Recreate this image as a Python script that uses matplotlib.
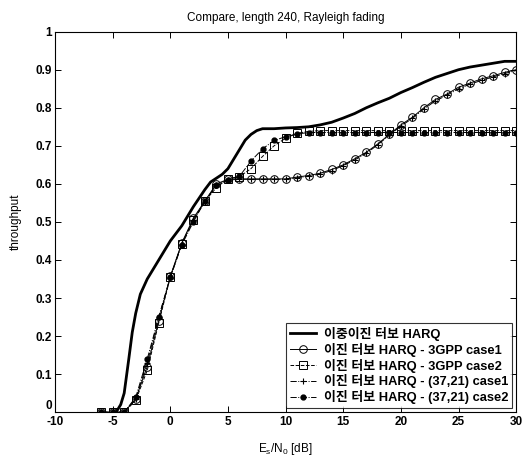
import numpy as np
import matplotlib.pyplot as plt

plt.rcParams['font.family'] = ['Liberation Sans', 'Noto Sans CJK KR', 'DejaVu Sans']
plt.rcParams['axes.unicode_minus'] = False

# dual-binary turbo HARQ (solid curve)
snr_dual = [-4.7, -4.3, -4, -3.6, -3.3, -3, -2.6, -2, -1, 0, 1, 2, 3, 3.5, 4, 4.5, 5, 5.5, 6,
            6.5, 7, 7.5, 8, 9, 10, 11, 12, 13, 14, 15, 16, 17, 18, 19, 20, 21, 22, 23, 24,
            25, 26, 27, 28, 29, 30]
thr_dual = [0.0, 0.02, 0.05, 0.14, 0.21, 0.26, 0.31, 0.35, 0.40, 0.45, 0.49, 0.54, 0.585, 0.605,
            0.615, 0.625, 0.64, 0.665, 0.69, 0.715, 0.73, 0.74, 0.745, 0.745, 0.747, 0.748, 0.75,
            0.755, 0.762, 0.773, 0.785, 0.80, 0.813, 0.825, 0.84, 0.853, 0.867, 0.88, 0.89,
            0.90, 0.907, 0.912, 0.917, 0.922, 0.922]

snr = list(range(-6, 31))
thr_3gpp_c1 = [0, 0, 0, 0.035, 0.12, 0.24, 0.357, 0.445, 0.51, 0.555, 0.60, 0.612, 0.613,
               0.613, 0.613, 0.613, 0.613, 0.618, 0.622, 0.628, 0.638, 0.65, 0.666, 0.683,
               0.705, 0.73, 0.755, 0.775, 0.80, 0.822, 0.836, 0.854, 0.865, 0.876, 0.884,
               0.893, 0.90]
thr_3gpp_c2 = [0, 0, 0, 0.031, 0.11, 0.235, 0.355, 0.443, 0.505, 0.555, 0.59, 0.614, 0.619,
               0.64, 0.672, 0.70, 0.72, 0.733, 0.738, 0.74, 0.74, 0.74, 0.74, 0.74, 0.74, 0.74,
               0.74, 0.74, 0.74, 0.74, 0.74, 0.74, 0.74, 0.74, 0.74, 0.74, 0.74]
thr_3721_c1 = [0, 0, 0, 0.035, 0.13, 0.25, 0.355, 0.443, 0.505, 0.553, 0.597, 0.61, 0.612,
               0.612, 0.612, 0.612, 0.612, 0.616, 0.62, 0.626, 0.635, 0.648, 0.663, 0.68,
               0.703, 0.728, 0.752, 0.772, 0.797, 0.818, 0.833, 0.85, 0.862, 0.872, 0.881,
               0.89, 0.898]
thr_3721_c2 = [0, 0, 0, 0.039, 0.14, 0.25, 0.354, 0.44, 0.50, 0.555, 0.596, 0.61, 0.62,
               0.66, 0.692, 0.714, 0.724, 0.731, 0.735, 0.735, 0.735, 0.735, 0.735, 0.735,
               0.735, 0.735, 0.735, 0.735, 0.735, 0.735, 0.735, 0.735, 0.735, 0.735, 0.735,
               0.735, 0.735]

labels = ['이중이진 터보 HARQ',
          '이진 터보 HARQ - 3GPP case1',
          '이진 터보 HARQ - 3GPP case2',
          '이진 터보 HARQ - (37,21) case1',
          '이진 터보 HARQ - (37,21) case2']

fig = plt.figure(figsize=(5.24, 4.59), dpi=100)
ax = fig.add_axes([0.105, 0.102, 0.88, 0.829])

ax.plot(snr_dual, thr_dual, 'k-', lw=2, label=labels[0])
ax.plot(snr, thr_3gpp_c1, 'k-', lw=0.7, marker='o', ms=5.5, mfc='none', mew=0.7, label=labels[1])
ax.plot(snr, thr_3gpp_c2, 'k--', lw=0.7, marker='s', ms=5.5, mfc='none', mew=0.7, label=labels[2])
ax.plot(snr, thr_3721_c1, 'k-.', lw=0.7, marker='+', ms=4, mew=0.8, label=labels[3])
ax.plot(snr, thr_3721_c2, 'k-.', lw=0.7, marker='o', ms=3.5, mfc='k', label=labels[4])

ax.set_xlim(-10, 30)
ax.set_ylim(0, 1)
ax.set_xticks(np.arange(-10, 31, 5))
ax.set_yticks(np.arange(0, 1.01, 0.1))
ax.set_yticklabels(['0', '0.1', '0.2', '0.3', '0.4', '0.5', '0.6', '0.7', '0.8', '0.9', '1'])
ax.tick_params(direction='in', top=True, right=True, length=4, width=0.7, labelsize=8.5, pad=2)
ax.tick_params(axis='x', pad=3)
for lab in ax.get_xticklabels() + ax.get_yticklabels():
    lab.set_fontweight('bold')
ax.get_yticklabels()[0].set_verticalalignment('bottom')
for s in ax.spines.values():
    s.set_linewidth(0.8)

ax.set_title('Compare, length 240, Rayleigh fading', fontsize=8.5, pad=8)
ax.set_xlabel('E$_\\mathregular{s}$/N$_\\mathregular{0}$ [dB]', fontsize=8.5, labelpad=9)
ax.set_ylabel('throughput', fontsize=8.5, labelpad=10)

leg = ax.legend(loc='lower right', fontsize=9.3, frameon=True, fancybox=False,
                edgecolor='k', handlelength=2.0, borderaxespad=0.3, labelspacing=0.15,
                borderpad=0.3, handletextpad=0.6)
leg.get_frame().set_linewidth(0.8)
for t in leg.get_texts():
    t.set_fontweight('bold')

fig.savefig('out.png', dpi=100)
